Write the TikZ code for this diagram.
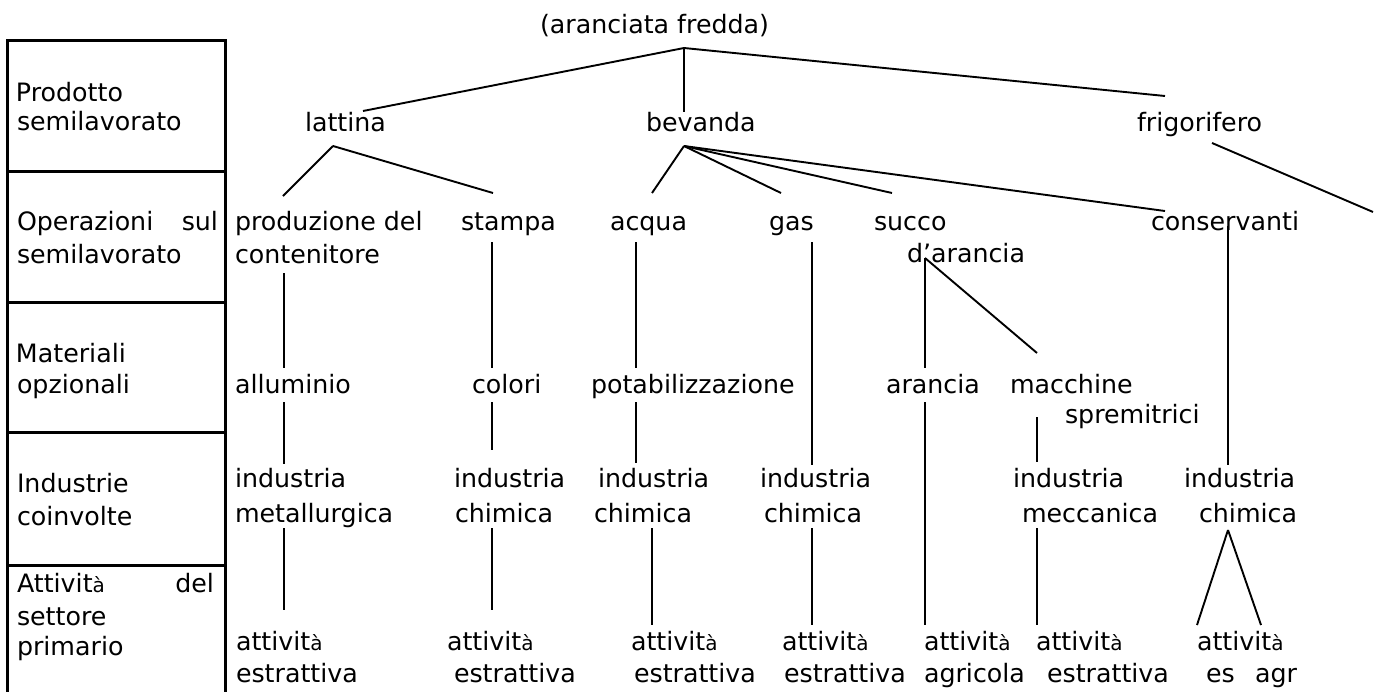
\documentclass[tikz,border=0pt]{standalone}
\usepackage{fontspec}
\setmainfont{DejaVu Sans}
\newcommand\smallagrave{{\fontsize{20}{20}\selectfont à}}
\begin{document}
\begin{tikzpicture}[x=1pt,y=-1pt,
  font=\fontsize{25.3}{30}\selectfont,
  lbl/.style={anchor=base west, inner sep=0pt, outer sep=0pt},
  conn/.style={line width=1.9pt},
  tbl/.style={line width=3pt}]
\useasboundingbox (0,0) rectangle (1380,691);
% ---------- left table ----------
\draw[tbl] (7.5,694) -- (7.5,40.5) -- (225,40.5) -- (225,694);
\foreach \yy in {171,302,432,565} \draw[tbl] (7.5,\yy) -- (225,\yy);
\node[lbl] (h1a) at (16,101) {Prodotto};
\node[lbl] (h1b) at (17,130) {semilavorato};
\node[lbl] (h2a) at (17,230) {\makebox[201pt][s]{Operazioni sul}};
\node[lbl] (h2b) at (17,263) {semilavorato};
\node[lbl] (h3a) at (16,362) {Materiali};
\node[lbl] (h3b) at (17,393) {opzionali};
\node[lbl] (h4a) at (17,492) {Industrie};
\node[lbl] (h4b) at (17,525) {coinvolte};
\node[lbl] (h5a) at (17,592) {\makebox[197pt][s]{Attivit\smallagrave{} del}};
\node[lbl] (h5b) at (17,625) {settore};
\node[lbl] (h5c) at (17,655) {primario};
% ---------- tree nodes ----------
\node[lbl] (root) at (540,33) {(aranciata fredda)};
\node[lbl] (lattina) at (305,131) {lattina};
\node[lbl] (bevanda) at (646,131) {bevanda};
\node[lbl] (frigo) at (1137,131) {frigorifero};
\coordinate (frigoend) at (1373,212);
\node[lbl] (prod) at (235,230) {produzione del};
\node[lbl] (cont) at (235,263) {contenitore};
\node[lbl] (stampa) at (461,230) {stampa};
\node[lbl] (acqua) at (610,230) {acqua};
\node[lbl] (gas) at (769,230) {gas};
\node[lbl] (succo) at (874,230) {succo};
\node[lbl] (darancia) at (907,262) {d’arancia};
\node[lbl] (cons) at (1151,230) {conservanti};
\node[lbl] (allum) at (235,393) {alluminio};
\node[lbl] (colori) at (472,393) {colori};
\node[lbl] (potab) at (591,393) {potabilizzazione};
\node[lbl] (arancia) at (886,393) {arancia};
\node[lbl] (macch) at (1010,393) {macchine};
\node[lbl] (spremi) at (1065,423) {spremitrici};
\node[lbl] (ind1a) at (235,487) {industria};
\node[lbl] (ind1b) at (235,522) {metallurgica};
\node[lbl] (ind2a) at (454,487) {industria};
\node[lbl] (ind2b) at (455,522) {chimica};
\node[lbl] (ind3a) at (598,487) {industria};
\node[lbl] (ind3b) at (594,522) {chimica};
\node[lbl] (ind4a) at (760,487) {industria};
\node[lbl] (ind4b) at (764,522) {chimica};
\node[lbl] (ind5a) at (1013,487) {industria};
\node[lbl] (ind5b) at (1022,522) {meccanica};
\node[lbl] (ind6a) at (1184,487) {industria};
\node[lbl] (ind6b) at (1199,522) {chimica};
\node[lbl] (att1a) at (236,650) {attivit\smallagrave};
\node[lbl] (att1b) at (236,682) {estrattiva};
\node[lbl] (att2a) at (447,650) {attivit\smallagrave};
\node[lbl] (att2b) at (454,682) {estrattiva};
\node[lbl] (att3a) at (631,650) {attivit\smallagrave};
\node[lbl] (att3b) at (634,682) {estrattiva};
\node[lbl] (att4a) at (782,650) {attivit\smallagrave};
\node[lbl] (att4b) at (784,682) {estrattiva};
\node[lbl] (att5a) at (924,650) {attivit\smallagrave};
\node[lbl] (att5b) at (924,682) {agricola};
\node[lbl] (att6a) at (1036,650) {attivit\smallagrave};
\node[lbl] (att6b) at (1047,682) {estrattiva};
\node[lbl] (att7a) at (1197,650) {attivit\smallagrave};
\node[lbl] (att7b) at (1206,682) {\makebox[91pt][s]{es agr}};
% ---------- connectors ----------
\draw[conn] ([shift={(144,15)}]root.base west) -- ([shift={(58,-20)}]lattina.base west);
\draw[conn] ([shift={(144,15)}]root.base west) -- ([shift={(38,-19)}]bevanda.base west);
\draw[conn] ([shift={(144,15)}]root.base west) -- ([shift={(28,-35)}]frigo.base west);
\draw[conn] ([shift={(28,15)}]lattina.base west) -- ([shift={(48,-34)}]prod.base west);
\draw[conn] ([shift={(28,15)}]lattina.base west) -- ([shift={(32,-37)}]stampa.base west);
\draw[conn] ([shift={(38,15)}]bevanda.base west) -- ([shift={(42,-37)}]acqua.base west);
\draw[conn] ([shift={(38,15)}]bevanda.base west) -- ([shift={(12,-37)}]gas.base west);
\draw[conn] ([shift={(38,15)}]bevanda.base west) -- ([shift={(18,-37)}]succo.base west);
\draw[conn] ([shift={(38,15)}]bevanda.base west) -- ([shift={(14,-19)}]cons.base west);
\draw[conn] ([shift={(75,12)}]frigo.base west) -- (frigoend);
\draw[conn] ([shift={(49,10)}]cont.base west) -- ([shift={(49,-25)}]allum.base west);
\draw[conn] ([shift={(31,12)}]stampa.base west) -- ([shift={(20,-25)}]colori.base west);
\draw[conn] ([shift={(26,12)}]acqua.base west) -- ([shift={(45,-25)}]potab.base west);
\draw[conn] ([shift={(43,12)}]gas.base west) -- ([shift={(52,-22)}]ind4a.base west);
\draw[conn] ([shift={(18,-4)}]darancia.base west) -- ([shift={(39,-25)}]arancia.base west);
\draw[conn] ([shift={(18,-4)}]darancia.base west) -- ([shift={(27,-40)}]macch.base west);
\draw[conn] ([shift={(77,-4)}]cons.base west) -- ([shift={(44,-22)}]ind6a.base west);
\draw[conn] ([shift={(49,9)}]allum.base west) -- ([shift={(49,-23)}]ind1a.base west);
\draw[conn] ([shift={(20,9)}]colori.base west) -- ([shift={(38,-37)}]ind2a.base west);
\draw[conn] ([shift={(45,9)}]potab.base west) -- ([shift={(38,-24)}]ind3a.base west);
\draw[conn] ([shift={(39,9)}]arancia.base west) -- ([shift={(1,-25)}]att5a.base west);
\draw[conn] ([shift={(-28,-6)}]spremi.base west) -- ([shift={(24,-25)}]ind5a.base west);
\draw[conn] ([shift={(49,6)}]ind1b.base west) -- ([shift={(48,-40)}]att1a.base west);
\draw[conn] ([shift={(37,6)}]ind2b.base west) -- ([shift={(45,-40)}]att2a.base west);
\draw[conn] ([shift={(58,6)}]ind3b.base west) -- ([shift={(21,-25)}]att3a.base west);
\draw[conn] ([shift={(48,6)}]ind4b.base west) -- ([shift={(30,-25)}]att4a.base west);
\draw[conn] ([shift={(15,6)}]ind5b.base west) -- ([shift={(1,-25)}]att6a.base west);
\draw[conn] ([shift={(29,8)}]ind6b.base west) -- ([shift={(0,-25)}]att7a.base west);
\draw[conn] ([shift={(29,8)}]ind6b.base west) -- ([shift={(64,-25)}]att7a.base west);
\end{tikzpicture}
\end{document}
